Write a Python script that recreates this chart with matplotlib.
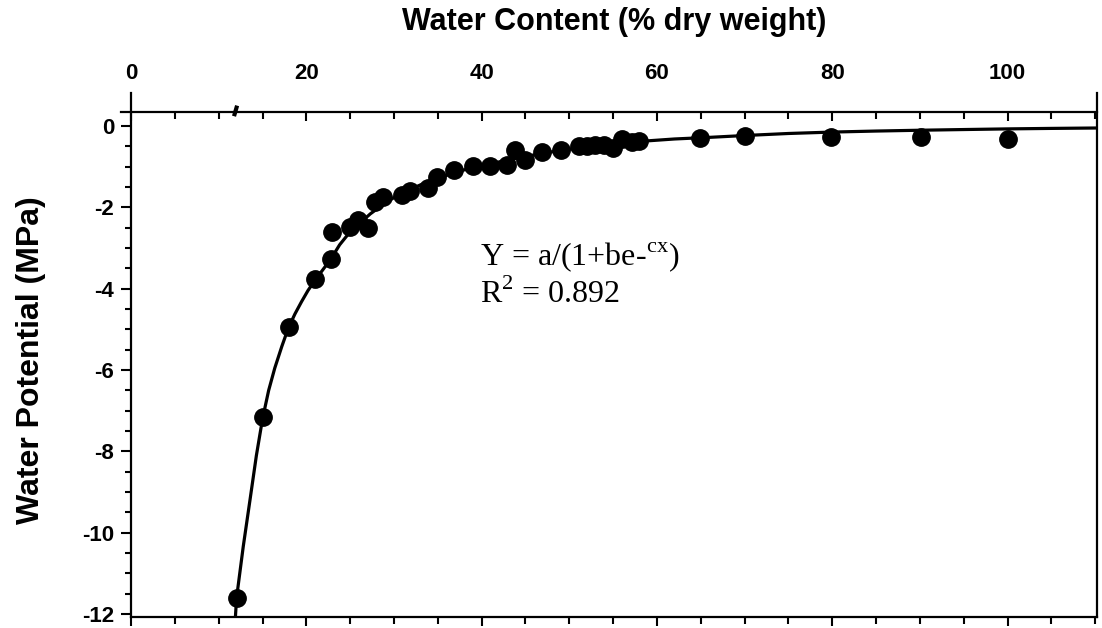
import matplotlib
matplotlib.use('Agg')
import matplotlib.pyplot as plt
from matplotlib.ticker import MultipleLocator, FixedLocator
import numpy as np

plt.rcParams['axes.unicode_minus'] = False

# measured points
water_content = [12.1, 15.0, 18.0, 21.0, 22.8, 22.9, 25.0, 25.9, 27.0, 27.8,
                 28.8, 30.9, 31.8, 33.9, 34.9, 36.9, 39.0, 40.9, 42.9, 43.8,
                 44.9, 46.9, 49.0, 51.1, 52.0, 52.9, 54.0, 55.0, 56.0, 57.1,
                 58.0, 64.9, 70.0, 79.9, 90.1, 100.0]
water_potential = [-11.6, -7.15, -4.95, -3.76, -3.26, -2.6, -2.48, -2.3, -2.52, -1.86,
                   -1.74, -1.7, -1.61, -1.52, -1.25, -1.08, -0.98, -0.98, -0.96, -0.6,
                   -0.84, -0.64, -0.59, -0.5, -0.5, -0.46, -0.47, -0.53, -0.33, -0.4,
                   -0.36, -0.3, -0.25, -0.27, -0.28, -0.32]

# fitted curve
fit_x = [11.9, 12.04, 12.8, 13.6, 14.3, 15.0, 15.7, 16.4, 17.2, 17.94, 18.7, 19.45,
         20.2, 21.0, 22.0, 22.8, 23.8, 25.0, 27.3, 29.2, 31.0, 33.0, 35.0,
         38.0, 41.0, 44.0, 47.0, 50.0, 54.0, 58.0, 62.0, 66.0, 70.0,
         75.0, 80.0, 85.0, 90.0, 95.0, 100.0, 105.0, 110.2]
fit_y = [-12.1, -11.6, -10.34, -9.15, -8.1, -7.2, -6.5, -5.95, -5.42, -4.97, -4.62, -4.32,
         -4.04, -3.79, -3.5, -3.27, -2.92, -2.6, -2.16, -1.86, -1.64, -1.45, -1.28,
         -1.08, -0.93, -0.79, -0.67, -0.57, -0.47, -0.38, -0.32, -0.28, -0.235,
         -0.185, -0.15, -0.125, -0.105, -0.088, -0.072, -0.06, -0.05]

x_major = [0, 20, 40, 60, 80, 100]
y_major = [0, -2, -4, -6, -8, -10, -12]
AXIS_BREAK_X = 12
TOP_AXIS_Y = 0.34

bold = {'family': 'Liberation Sans', 'weight': 'bold'}

fig = plt.figure(figsize=(11.02, 6.28), dpi=100)
ax = fig.add_axes([0.1189, 0.0175, 0.8766, 0.8344])
ax.set_xlim(0, 110.2)
ax.set_ylim(-12.07, 0.81)

ax.plot(fit_x, fit_y, color='black', linewidth=2.3, zorder=2)
ax.plot(water_content, water_potential, 'o', color='black', markersize=12.5, zorder=3)

# spines
for s in ax.spines.values():
    s.set_linewidth(1.6)
ax.spines['top'].set_position(('data', TOP_AXIS_Y))
ax.spines['top'].set_bounds(-1.1, 110.2)

# axis break on the top axis
ax.plot([AXIS_BREAK_X - 0.25, AXIS_BREAK_X + 0.1], [TOP_AXIS_Y - 0.1, TOP_AXIS_Y + 0.16],
        color='black', linewidth=3, clip_on=False, solid_capstyle='butt')

ax.xaxis.set_major_locator(FixedLocator(x_major))
ax.xaxis.set_minor_locator(MultipleLocator(5))
ax.yaxis.set_major_locator(FixedLocator(y_major))
ax.yaxis.set_minor_locator(FixedLocator(np.arange(-12, 0.01, 0.5)))

ax.tick_params(axis='x', which='both', top=True, bottom=False, labeltop=True,
               labelbottom=False, direction='in', width=1.5, pad=20)
ax.tick_params(axis='x', which='major', length=6.5, labelsize=16)
ax.tick_params(axis='x', which='minor', length=4.8)
ax.tick_params(axis='y', which='both', left=True, right=False, direction='out', width=1.5, pad=5)
ax.tick_params(axis='y', which='major', length=7, labelsize=16)
ax.tick_params(axis='y', which='minor', length=4.5)

# bottom ticks (no labels)
sec = ax.secondary_xaxis('bottom')
sec.xaxis.set_major_locator(FixedLocator(x_major))
sec.xaxis.set_minor_locator(MultipleLocator(5))
sec.tick_params(which='both', direction='out', width=1.5, labelbottom=False)
sec.tick_params(which='major', length=6.5)
sec.tick_params(which='minor', length=4.8)
sec.spines['bottom'].set_visible(False)

for lbl in ax.get_xticklabels() + ax.get_yticklabels():
    lbl.set_fontfamily('Liberation Sans')
    lbl.set_fontweight('bold')

ax.xaxis.set_label_position('top')
ax.set_xlabel('Water Content (% dry weight)', fontsize=22, labelpad=24, **bold)
ax.set_ylabel('Water Potential (MPa)', fontsize=23, **bold)
ax.yaxis.set_label_coords(-0.088, 0.49)

ax.text(39.8, -3.42, r'Y = a/(1+be-$^{\mathregular{cx}}$)', fontsize=23,
        family='Liberation Serif', ha='left', va='baseline')
ax.text(39.8, -4.35, r'R$^{\mathregular{2}}$ = 0.892', fontsize=23,
        family='Liberation Serif', ha='left', va='baseline')

fig.savefig('out.png', dpi=100)
